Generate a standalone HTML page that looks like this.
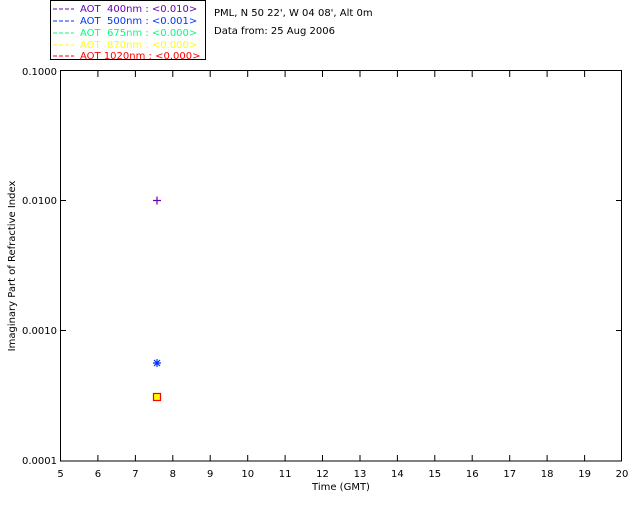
<!DOCTYPE html>
<html><head><meta charset="utf-8"><style>
body{margin:0;background:#fff;}
svg text{font-family:"DejaVu Sans","Liberation Sans",sans-serif;font-size:10px;}
</style></head><body>
<svg width="640" height="512" xmlns="http://www.w3.org/2000/svg">
<rect width="640" height="512" fill="#fff"/>
<!-- legend -->
<rect x="50.5" y="0.5" width="155" height="59" fill="none" stroke="#000"/>
<g font-size="10">
<line x1="53" y1="9" x2="74" y2="9" stroke="#6a00b0" stroke-dasharray="4,2"/>
<text x="80" y="12" fill="#6a00b0" xml:space="preserve">AOT  400nm : &lt;0.010&gt;</text>
<line x1="53" y1="21" x2="74" y2="21" stroke="#0033ff" stroke-dasharray="4,2"/>
<text x="80" y="24" fill="#0033ff" xml:space="preserve">AOT  500nm : &lt;0.001&gt;</text>
<line x1="53" y1="33" x2="74" y2="33" stroke="#00ff80" stroke-dasharray="4,2"/>
<text x="80" y="36" fill="#00ff80" xml:space="preserve">AOT  675nm : &lt;0.000&gt;</text>
<line x1="53" y1="45" x2="74" y2="45" stroke="#ffff00" stroke-dasharray="4,2"/>
<text x="80" y="48" fill="#ffff00" xml:space="preserve">AOT  870nm : &lt;0.000&gt;</text>
<line x1="53" y1="56" x2="74" y2="56" stroke="#ff0000" stroke-dasharray="4,2"/>
<text x="80" y="59" fill="#ff0000" xml:space="preserve">AOT 1020nm : &lt;0.000&gt;</text>
</g>
<text x="214" y="16">PML, N 50 22', W 04 08', Alt 0m</text>
<text x="214" y="34">Data from: 25 Aug 2006</text>
<!-- axes -->
<rect x="60.5" y="70.5" width="561" height="390.5" fill="none" stroke="#000"/>
<g stroke="#000">
<line x1="60.5" y1="200.5" x2="66" y2="200.5"/>
<line x1="60.5" y1="330.5" x2="66" y2="330.5"/>
<line x1="616" y1="200.5" x2="621.5" y2="200.5"/>
<line x1="616" y1="330.5" x2="621.5" y2="330.5"/>
</g>
<g id="xt" stroke="#000"></g>
<g font-size="10" text-anchor="end">
<text x="57" y="75">0.1000</text>
<text x="57" y="204">0.0100</text>
<text x="57" y="334">0.0010</text>
<text x="57" y="464">0.0001</text>
</g>
<g font-size="10" text-anchor="middle">
<text x="60.5" y="477">5</text><text x="97.9" y="477">6</text><text x="135.4" y="477">7</text><text x="172.8" y="477">8</text><text x="210.2" y="477">9</text><text x="247.7" y="477">10</text><text x="285.1" y="477">11</text><text x="322.5" y="477">12</text><text x="360" y="477">13</text><text x="397.4" y="477">14</text><text x="434.8" y="477">15</text><text x="472.2" y="477">16</text><text x="509.7" y="477">17</text><text x="547.1" y="477">18</text><text x="584.6" y="477">19</text><text x="622" y="477">20</text>
</g>
<g stroke="#000">
<path d="M97.9 461V455M135.4 461V455M172.8 461V455M210.2 461V455M247.7 461V455M285.1 461V455M322.5 461V455M360 461V455M397.4 461V455M434.8 461V455M472.2 461V455M509.7 461V455M547.1 461V455M584.6 461V455 M97.9 71V77M135.4 71V77M172.8 71V77M210.2 71V77M247.7 71V77M285.1 71V77M322.5 71V77M360 71V77M397.4 71V77M434.8 71V77M472.2 71V77M509.7 71V77M547.1 71V77M584.6 71V77"/>
</g>
<text x="341" y="490" text-anchor="middle">Time (GMT)</text>
<text transform="translate(15,266) rotate(-90)" text-anchor="middle">Imaginary Part of Refractive Index</text>
<!-- data -->
<path d="M153 200.5H161M157 196.5V204.5" stroke="#6a00b0" stroke-width="1.2"/>
<g stroke="#0033ff" stroke-width="1.2"><path d="M153 363H161M157 359V367M154 360L160 366M160 360L154 366"/></g>
<rect x="153.5" y="393.5" width="7" height="7" fill="#ffff00" stroke="#ff0000" stroke-width="1.2"/>
</svg>
</body></html>
